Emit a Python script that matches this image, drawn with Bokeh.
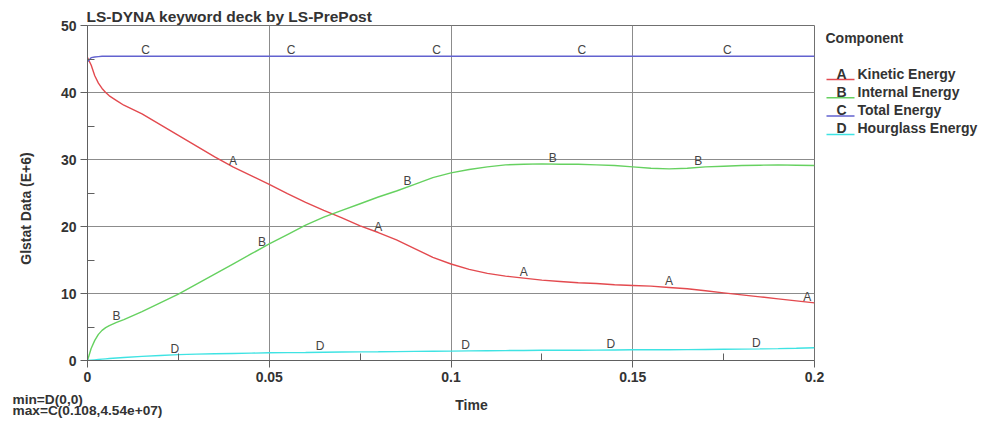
import numpy as np
from bokeh.plotting import figure
from bokeh.layouts import row, column
from bokeh.models import Range1d, FixedTicker, LabelSet, ColumnDataSource
from bokeh.core.properties import value
from bokeh.embed import file_html
from bokeh.resources import INLINE

# ---- data (values in E+6) ----
time = [0, 0.001, 0.002, 0.003, 0.004, 0.005, 0.006, 0.008, 0.01, 0.015, 0.02, 0.025, 0.03, 0.035,
        0.04, 0.045, 0.05, 0.055, 0.06, 0.065, 0.07, 0.075, 0.08, 0.085, 0.09, 0.095, 0.1, 0.105,
        0.11, 0.115, 0.12, 0.125, 0.13, 0.135, 0.14, 0.145, 0.15, 0.155, 0.16, 0.165, 0.17, 0.175,
        0.18, 0.185, 0.19, 0.195, 0.2]
kinetic = [45.2, 44.1, 42.5, 41.4, 40.6, 40.0, 39.5, 38.8, 38.1, 36.8, 35.2, 33.6, 32.0, 30.4,
           28.9, 27.6, 26.3, 24.9, 23.6, 22.4, 21.3, 20.1, 19.1, 18.0, 16.7, 15.4, 14.4, 13.6,
           13.0, 12.6, 12.3, 12.0, 11.8, 11.6, 11.5, 11.3, 11.2, 11.1, 10.9, 10.7, 10.4, 10.1,
           9.8, 9.5, 9.2, 8.9, 8.6]
internal = [0.0, 1.8, 3.0, 3.9, 4.5, 4.9, 5.2, 5.7, 6.1, 7.3, 8.6, 9.9, 11.4, 12.9,
            14.4, 15.9, 17.4, 18.8, 20.2, 21.4, 22.4, 23.4, 24.4, 25.3, 26.3, 27.3, 28.0, 28.5,
            28.9, 29.2, 29.3, 29.35, 29.3, 29.3, 29.2, 29.1, 28.9, 28.7, 28.6, 28.7, 28.9, 29.0,
            29.1, 29.15, 29.2, 29.15, 29.1]
total = [44.6, 45.2, 45.3, 45.35, 45.4, 45.4, 45.4, 45.4, 45.4, 45.4, 45.4, 45.4, 45.4, 45.4,
         45.4, 45.4, 45.4, 45.4, 45.4, 45.4, 45.4, 45.4, 45.4, 45.4, 45.4, 45.4, 45.4, 45.4,
         45.4, 45.4, 45.4, 45.4, 45.4, 45.4, 45.4, 45.4, 45.4, 45.4, 45.4, 45.4, 45.4, 45.4,
         45.4, 45.4, 45.4, 45.4, 45.4]
hourglass = [0.0, 0.05, 0.1, 0.15, 0.2, 0.25, 0.3, 0.38, 0.45, 0.62, 0.75, 0.87, 0.95, 1.0,
             1.05, 1.1, 1.15, 1.18, 1.2, 1.23, 1.26, 1.28, 1.3, 1.33, 1.36, 1.38, 1.4, 1.43,
             1.46, 1.48, 1.5, 1.52, 1.53, 1.54, 1.55, 1.57, 1.6, 1.6, 1.6, 1.62, 1.65, 1.68,
             1.7, 1.73, 1.77, 1.83, 1.9]

series_letters = ["A", "B", "C", "D"]
series_names = ["Kinetic Energy", "Internal Energy", "Total Energy", "Hourglass Energy"]
series_values = [kinetic, internal, total, hourglass]
series_colors = ["#e34a4f", "#66d160", "#6262cf", "#3fe3e3"]
label_offsets = [0.04, 0.008, 0.016, 0.024]
label_spacing = 0.04

x_ticks = [0, 0.05, 0.1, 0.15, 0.2]
x_tick_labels = ["0", "0.05", "0.1", "0.15", "0.2"]
x_minor = [0.025, 0.075, 0.125, 0.175]
y_ticks = [0, 10, 20, 30, 40, 50]
y_minor = [5, 15, 25, 35, 45]

title_text = "LS-DYNA keyword deck by LS-PrePost"
y_label = "Glstat Data (E+6)"
x_label = "Time"
min_text = "min=D(0,0)"
max_text = "max=C(0.108,4.54e+07)"
legend_title = "Component"

FONT = "Liberation Sans"
TXT = "#333333"
TOP, BOTTOM = 25, 28          # borders shared by the plots of the top row
ROW_H = 388


def blank(width, height, x0, x1, y0, y1, top=0, bottom=0):
    f = figure(width=width, height=height, x_range=Range1d(x0, x1), y_range=Range1d(y0, y1),
               output_backend="svg", toolbar_location=None, x_axis_type=None, y_axis_type=None,
               min_border_left=0, min_border_right=0, min_border_top=top,
               min_border_bottom=bottom)
    f.title.visible = False
    f.grid.visible = False
    f.outline_line_color = None
    f.background_fill_color = "white"
    f.border_fill_color = "white"
    return f


# ---- main plot ----
p = figure(width=768, height=ROW_H, x_range=Range1d(0, 0.2), y_range=Range1d(0, 50),
           output_backend="svg", toolbar_location=None,
           min_border_left=30, min_border_right=11, min_border_top=TOP, min_border_bottom=BOTTOM)
p.title.text = title_text
p.title.align = "left"
p.title.text_font = FONT
p.title.text_font_style = "bold"
p.title.text_font_size = "15.5px"
p.title.text_color = TXT
p.title.standoff = 2
p.title.offset = -1
p.background_fill_color = "white"
p.border_fill_color = "white"
p.outline_line_color = "#707070"

for ax in (p.xaxis[0], p.yaxis[0]):
    ax.axis_line_color = "#606060"
    ax.major_tick_line_color = "#606060"
    ax.minor_tick_line_color = "#606060"
    ax.major_tick_out = 7
    ax.major_tick_in = 0
    ax.minor_tick_in = 7
    ax.minor_tick_out = 0
    ax.major_label_text_font = FONT
    ax.major_label_text_font_style = "bold"
    ax.major_label_text_font_size = "14px"
    ax.major_label_text_color = TXT
    ax.major_label_standoff = 4

p.xaxis.ticker = FixedTicker(ticks=x_ticks, minor_ticks=x_minor)
p.xaxis.major_label_overrides = {t: l for t, l in zip(x_ticks, x_tick_labels)}
p.yaxis.ticker = FixedTicker(ticks=y_ticks, minor_ticks=y_minor)
p.xgrid.grid_line_color = "#8c8c8c"
p.ygrid.grid_line_color = "#8c8c8c"

t_arr = np.array(time)
for letter, vals, col, off in zip(series_letters, series_values, series_colors, label_offsets):
    p.line(time, vals, line_color=col, line_width=1.4)
    lt = np.arange(off, 0.2 + 1e-9, label_spacing)
    ly = np.interp(lt, t_arr, np.array(vals))
    lx = np.minimum(lt, 0.198)   # keep the last letter inside the frame
    src = ColumnDataSource(dict(x=lx, y=ly, t=[letter] * len(lt)))
    p.add_layout(LabelSet(x="x", y="y", text="t", source=src, text_align="center",
                          text_baseline="middle", y_offset=6, text_font=value(FONT),
                          text_font_size="12px", text_color="#444444"))

# ---- left strip: y-axis title (page pixel coordinates) ----
left = blank(57, ROW_H, 0, 57, ROW_H - BOTTOM, TOP, TOP, BOTTOM)
left.text(x=[25], y=[208], text=[y_label], angle=np.pi / 2, text_align="center",
          text_baseline="middle", text_font=value(FONT), text_font_style="bold",
          text_font_size="14px", text_color=TXT)

# ---- right strip: legend (page pixel coordinates) ----
leg = blank(992 - 825, ROW_H, 825, 992, ROW_H - BOTTOM, TOP, TOP, BOTTOM)
leg.text(x=[825], y=[37], text=[legend_title], text_baseline="middle", text_font=value(FONT),
         text_font_style="bold", text_font_size="14px", text_color=TXT)
rows_y = [73 + 18.3 * i for i in range(len(series_letters))]
leg.segment(x0=[826] * 4, x1=[854] * 4, y0=[y + 6 for y in rows_y], y1=[y + 6 for y in rows_y],
            line_color=series_colors, line_width=1.5)
leg.text(x=[841] * 4, y=rows_y, text=series_letters, text_align="center", text_baseline="middle",
         text_font=value(FONT), text_font_style="bold", text_font_size="14px", text_color=TXT)
leg.text(x=[857] * 4, y=rows_y, text=series_names, text_baseline="middle",
         text_font=value(FONT), text_font_style="bold", text_font_size="14px", text_color=TXT)

# ---- bottom strip: extremes note and x-axis title ----
bot = blank(992, 421 - ROW_H, 0, 992, 421, ROW_H)
bot.text(x=[12, 12], y=[399, 410], text=[min_text, max_text], text_baseline="middle",
         text_font=value(FONT), text_font_style="bold", text_font_size="13.7px", text_color=TXT)
bot.text(x=[471], y=[404], text=[x_label], text_align="center", text_baseline="middle",
         text_font=value(FONT), text_font_style="bold", text_font_size="14px", text_color=TXT)

layout = column(row(left, p, leg), bot, spacing=0)
open("out.html", "w").write(file_html(layout, INLINE))
